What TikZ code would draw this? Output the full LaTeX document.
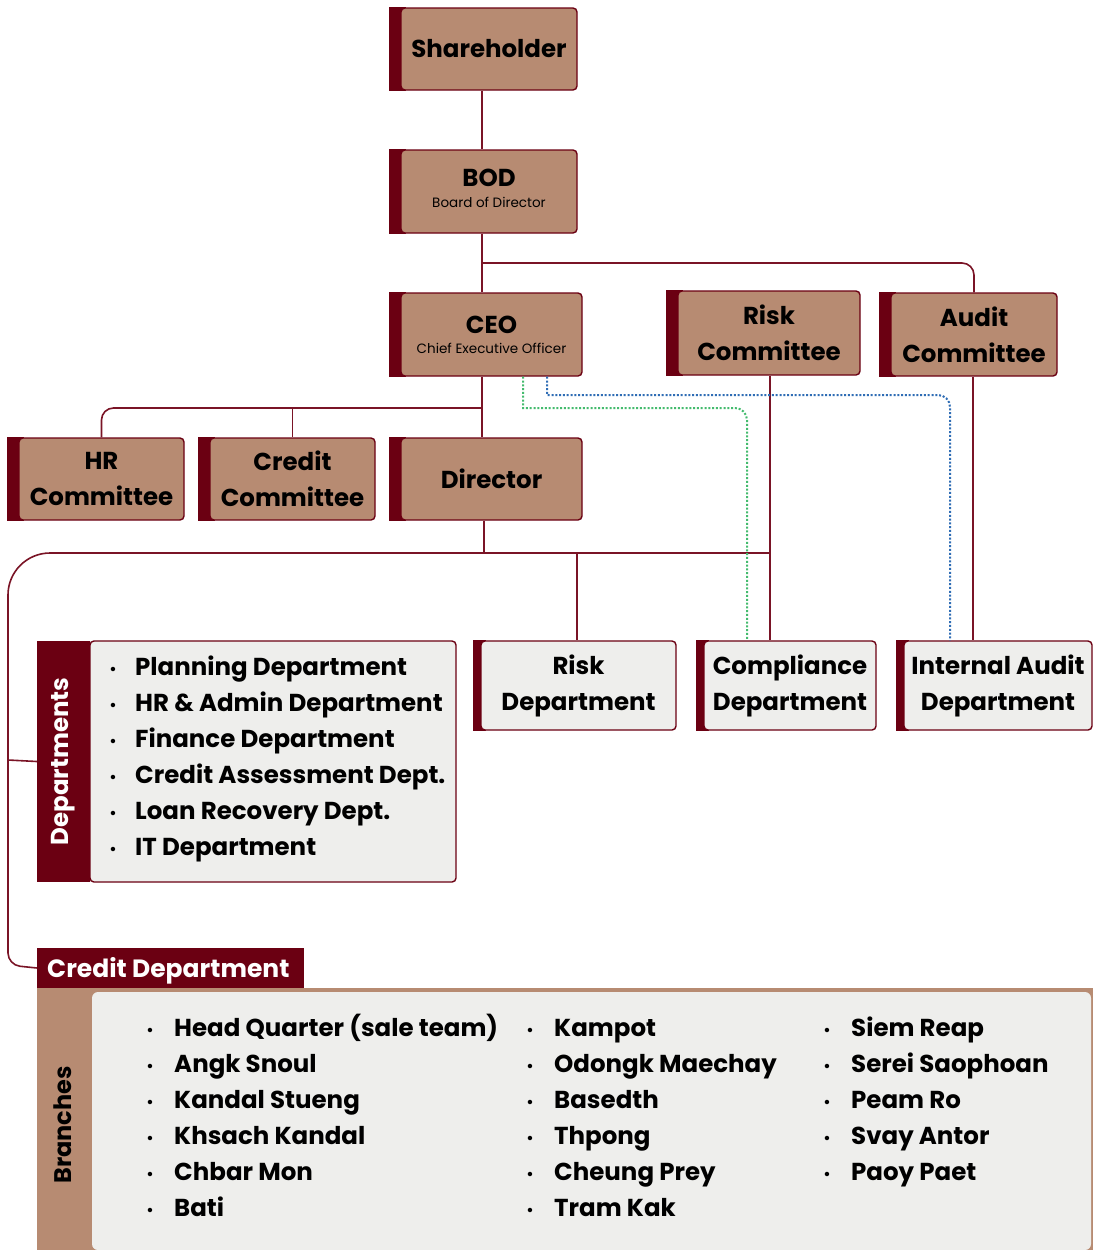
\documentclass[tikz,border=0pt]{standalone}
\usepackage{fontspec}
\setmainfont{Poppins}
\usetikzlibrary{backgrounds}
\definecolor{dred}{HTML}{6B0012}
\definecolor{lred}{HTML}{7A1426}
\definecolor{tan}{HTML}{B78B72}
\definecolor{light}{HTML}{EEEEEC}
\definecolor{dgreen}{HTML}{44BB6E}
\definecolor{dblue}{HTML}{2F6DB5}
\newcommand\subtxt{\mdseries\fontsize{13.5}{16}\selectfont}
\begin{document}
\begin{tikzpicture}[x=1pt,y=-1pt,
  orgbox/.style={fill=tan, draw=dred, line width=1.4pt, rounded corners=4pt, inner sep=0pt,
    align=center, font=\bfseries\fontsize{24.5}{36}\selectfont},
  deptbox/.style={orgbox, fill=light},
  conn/.style={draw=lred, line width=1.6pt},
  gdot/.style={draw=dgreen, line width=2pt, dash pattern=on 2pt off 1.8pt},
  bdot/.style={draw=dblue, line width=2pt, dash pattern=on 2pt off 1.8pt},
  item/.style={anchor=base west, inner sep=0pt, font=\bfseries\fontsize{24.5}{24}\selectfont},
  bul/.style={anchor=base, inner sep=0pt, font=\fontsize{18}{18}\selectfont}
  ]
\useasboundingbox (0,0) rectangle (1093,1250);
\begin{scope}[on background layer]
\fill[white] (0,0) rectangle (1093,1250);
\end{scope}

% top boxes
\node[orgbox, minimum width=176, minimum height=82] (sh) at (489,49) {Shareholder};
\node[orgbox, minimum width=176, minimum height=83] (bod) at (489,191.5) {BOD\\[-15pt]{\subtxt Board of Director}\\[-29pt]{}};
\node[orgbox, minimum width=181, minimum height=83] (ceo) at (491.5,334.5) {CEO\\[-16pt]{\subtxt Chief Executive Officer}};
\node[orgbox, minimum width=182, minimum height=84] (riskc) at (769,333) {Risk\\Committee};
\node[orgbox, minimum width=166, minimum height=83] (auditc) at (974,334.5) {Audit\\Committee};
\node[orgbox, minimum width=165, minimum height=82] (hr) at (101.5,479) {HR\\Committee};
\node[orgbox, minimum width=165, minimum height=82] (credc) at (292.5,479) {Credit\\Committee};
\node[orgbox, minimum width=181, minimum height=82] (dir) at (491.5,479) {Director};
\node[deptbox, minimum width=195, minimum height=89] (riskd) at (578.5,685.5) {Risk\\Department};
\node[deptbox, minimum width=172, minimum height=89] (compd) at (790,685.5) {Compliance\\Department};
\node[deptbox, minimum width=188, minimum height=89] (iad) at (998,685.5) {Internal Audit\\Department};

\begin{scope}[on background layer]
\foreach \n/\w in {sh/11,bod/11,ceo/11,riskc/11,auditc/11,hr/11,credc/11,dir/11,riskd/7,compd/7,iad/7}
  \fill[dred] ([xshift=-\w pt]\n.north west) rectangle ([xshift=6pt]\n.south west);
\end{scope}

% departments
\node[fill=dred, minimum width=53, minimum height=241, inner sep=0pt] (depbar) at (63.5,761.5) {};
\node[rotate=90, text=white, font=\bfseries\fontsize{24.5}{24}\selectfont] (deplabel) at (depbar.center) {Departments};
\node[fill=light, draw=dred, line width=1.4pt, rounded corners=4pt, minimum width=366, minimum height=241, inner sep=0pt] (deps) at (273,761.5) {};
\foreach \t [count=\i from 0] in {Planning Department,HR \& Admin Department,Finance Department,Credit Assessment Dept.,Loan Recovery Dept.,IT Department}{
  \node[bul] (db\i) at (113,675.5+36*\i) {•};
  \node[item] (dt\i) at (135,675.5+36*\i) {\t};
}

% credit department / branches
\node[fill=tan, minimum width=1056, minimum height=262, inner sep=0pt] (brtan) at (565,1119) {};
\node[fill=light, rounded corners=6pt, minimum width=999, minimum height=258, inner sep=0pt] (brbox) at (591.5,1121) {};
\node[fill=dred, minimum width=267, minimum height=40, inner sep=0pt] (cdlabel) at (170.5,968) {};
\node[anchor=base west, inner sep=0pt, text=white, font=\bfseries\fontsize{25}{25}\selectfont] (cdtext) at (47,977) {Credit Department};
\node[rotate=90, font=\bfseries\fontsize{24}{24}\selectfont] (brlabel) at (63,1125) {Branches};
\foreach \t [count=\i from 0] in {Head Quarter (sale team),Angk Snoul,Kandal Stueng,Khsach Kandal,Chbar Mon,Bati}{
  \node[bul] (ab\i) at (150,1036.5+36*\i) {•};
  \node[item] (at\i) at (174,1036.5+36*\i) {\t};
}
\foreach \t [count=\i from 0] in {Kampot,Odongk Maechay,Basedth,Thpong,Cheung Prey,Tram Kak}{
  \node[bul] (bb\i) at (530,1036.5+36*\i) {•};
  \node[item] (bt\i) at (554,1036.5+36*\i) {\t};
}
\foreach \t [count=\i from 0] in {Siem Reap,Serei Saophoan,Peam Ro,Svay Antor,Paoy Paet}{
  \node[bul] (cb\i) at (827,1036.5+36*\i) {•};
  \node[item] (ct\i) at (851,1036.5+36*\i) {\t};
}

% connectors
\coordinate (v1) at (482,0);
\coordinate (v1b) at (484,0);
\coordinate (j1) at (482,263);
\coordinate (j2) at (482,408);
\coordinate (j3) at (770,553);
\coordinate (j4) at (8,760);
\coordinate (vr) at (577,0);
\coordinate (v2) at (973,0);
\coordinate (g0) at (523,0);
\coordinate (g1) at (747,0);
\coordinate (b0) at (547,0);
\coordinate (b1) at (950,0);
\draw[conn] (sh.south -| v1) -- (bod.north -| v1);
\draw[conn] (bod.south -| v1) -- (ceo.north -| v1);
\draw[conn, rounded corners=12pt] (j1) -- (j1 -| auditc.north) -- (auditc.north);
\draw[conn] (ceo.south -| v1) -- (dir.north -| v1);
\draw[conn, rounded corners=12pt] (j2) -- (j2 -| hr.north) -- (hr.north);
\draw[conn] (j2 -| credc.north) -- (credc.north);
\draw[conn] (dir.south -| v1b) -- (j3 -| v1b);
\draw[conn, rounded corners=42pt] (j3) -- (8,553) -- (j4);
\draw[conn, rounded corners=12pt] (8,700) -- (8,965) -- (cdlabel.west);
\draw[conn] (j4) -- (depbar.west);
\draw[conn] (j3 -| vr) -- (riskd.north -| vr);
\draw[conn] (riskc.south -| j3) -- (compd.north -| j3);
\draw[conn] (auditc.south -| v2) -- (iad.north -| v2);
\draw[gdot] (ceo.south -| g0) -- (523,408) [rounded corners=12pt] -- (747,408) [rounded corners=40pt] -- (compd.north -| g1);
\draw[bdot] (ceo.south -| b0) -- (547,395) [rounded corners=12pt] -- (950,395) [rounded corners=40pt] -- (iad.north -| b1);
\end{tikzpicture}
\end{document}
